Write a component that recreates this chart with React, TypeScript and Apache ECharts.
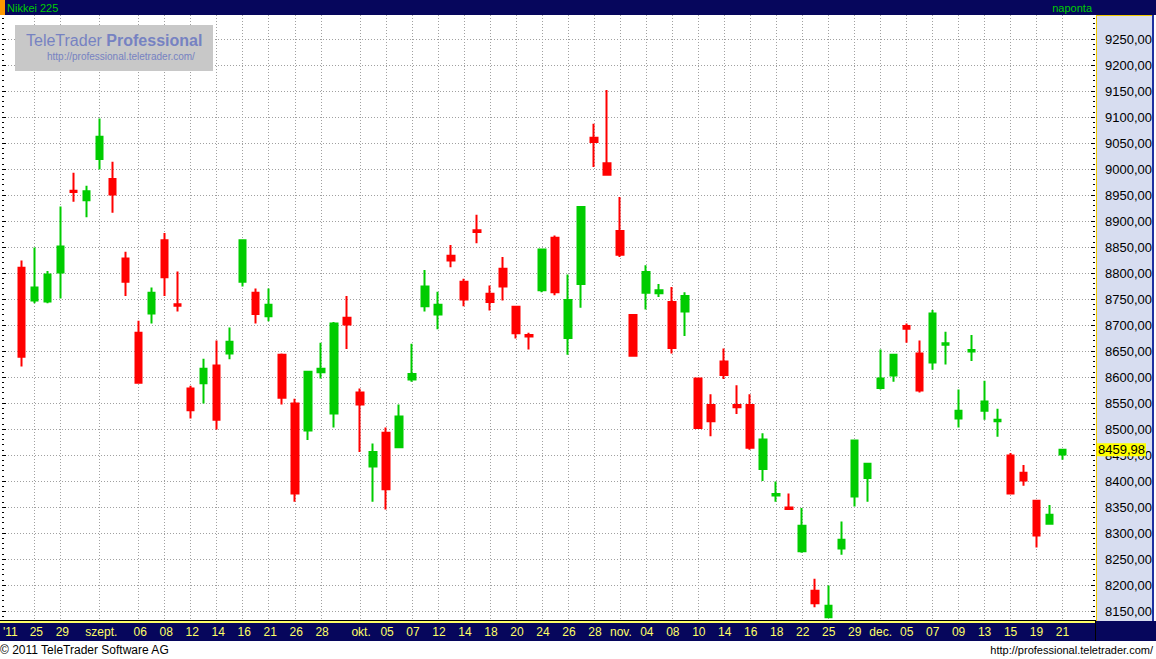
import React, { useEffect, useRef } from 'react';
import * as echarts from 'echarts';

// ---- Data (Nikkei 225, daily, Aug 24 - Dec 21 2011) ----
const DATES = [
  '08-24','08-25','08-26','08-29','08-30','08-31',
  '09-01','09-02','09-05','09-06','09-07','09-08','09-09','09-12','09-13','09-14','09-15','09-16','09-20','09-21','09-22','09-26','09-27','09-28','09-29','09-30',
  '10-03','10-04','10-05','10-06','10-07','10-11','10-12','10-13','10-14','10-17','10-18','10-19','10-20','10-21','10-24','10-25','10-26','10-27','10-28','10-31',
  '11-01','11-02','11-04','11-07','11-08','11-09','11-10','11-11','11-14','11-15','11-16','11-17','11-18','11-21','11-22','11-24','11-25','11-28','11-29','11-30',
  '12-01','12-02','12-05','12-06','12-07','12-08','12-09','12-12','12-13','12-14','12-15','12-16','12-19','12-20','12-21',
];
const OPEN = [
  8810,8747,8745,8801,8958,8940,
  9019,8981,8828,8685,8722,8863,8740,8578,8588,8622,8645,8783,8762,8717,8643,8549,8497,8609,8530,8714,
  8570,8428,8493,8465,8595,8736,8720,8833,8783,8882,8760,8808,8735,8681,8767,8868,8675,8779,9060,9011,
  8881,8719,8762,8761,8744,8726,8597,8546,8630,8546,8546,8423,8372,8349,8265,8189,8138,8270,8370,8406,
  8579,8603,8698,8645,8628,8662,8520,8649,8535,8515,8449,8416,8362,8318,8451,
];
const CLOSE = [
  8639,8772,8797,8851,8956,8957,
  9062,8951,8783,8589,8762,8792,8737,8536,8616,8518,8668,8863,8721,8739,8560,8376,8610,8616,8703,8701,
  8547,8456,8384,8524,8606,8774,8739,8824,8749,8879,8744,8774,8684,8678,8845,8763,8748,8927,9052,8989,
  8835,8641,8802,8767,8656,8756,8502,8515,8604,8542,8464,8480,8375,8346,8314,8165,8160,8287,8478,8433,
  8597,8643,8693,8574,8722,8665,8535,8652,8553,8518,8376,8401,8295,8335,8459.98,
];
const LOW = [
  8620,8742,8742,8751,8937,8907,
  8999,8916,8756,8587,8703,8756,8726,8520,8549,8499,8634,8774,8703,8707,8547,8360,8479,8597,8503,8654,
  8456,8360,8345,8464,8591,8726,8692,8811,8736,8857,8728,8747,8674,8653,8763,8757,8643,8733,9004,8988,
  8831,8640,8730,8754,8645,8679,8500,8486,8596,8529,8460,8400,8360,8344,8262,8157,8137,8258,8351,8360,
  8576,8591,8666,8570,8614,8624,8503,8631,8518,8485,8374,8391,8272,8316,8441,
];
const HIGH = [
  8824,8849,8804,8928,8993,8968,
  9097,9014,8841,8708,8772,8877,8803,8583,8635,8670,8695,8864,8770,8770,8645,8558,8611,8666,8706,8756,
  8578,8472,8503,8547,8664,8806,8764,8854,8789,8912,8776,8831,8736,8685,8847,8872,8797,8928,9087,9152,
  8946,8720,8815,8779,8773,8763,8599,8567,8655,8584,8567,8492,8399,8376,8348,8212,8199,8322,8479,8435,
  8653,8644,8703,8670,8729,8687,8576,8681,8593,8539,8454,8431,8364,8354,8461,
];
// empty slots before / after the data on the category axis
const LEAD_SLOTS = ['08-23'];
const TRAIL_SLOTS = ['12-22', '12-26'];

const TICK_DATES = [
  '08-23','08-25','08-29','09-01','09-06','09-08','09-12','09-14','09-16','09-21','09-26','09-28',
  '10-03','10-05','10-07','10-12','10-14','10-18','10-20','10-24','10-26','10-28',
  '11-01','11-04','11-08','11-10','11-14','11-16','11-18','11-22','11-25','11-29',
  '12-01','12-05','12-07','12-09','12-13','12-15','12-19','12-21',
];
const TICK_LABELS = [
  "'11",'25','29','szept.','06','08','12','14','16','21','26','28',
  'okt.','05','07','12','14','18','20','24','26','28',
  'nov.','04','08','10','14','16','18','22','25','29',
  'dec.','05','07','09','13','15','19','21',
];

const Y_MIN = 8100;
const Y_MAX = 9300;
const Y_STEP = 50;

const CATEGORIES = [...LEAD_SLOTS, ...DATES, ...TRAIL_SLOTS];
const tickIndex = (v: string) => TICK_DATES.indexOf(v);
const fmtNum = (v: number) => v.toFixed(2).replace('.', ',');

const FONT = '"Liberation Sans", Arial, sans-serif';
const NAVY = '#06065c';
const UP = '#00cc00';
const DOWN = '#ff0000';
const GRID_COLOR = '#a0a0a0';

function buildOption() {
  const last = CLOSE.length - 1;
  return {
    animation: false,
    backgroundColor: '#ffffff',
    textStyle: { fontFamily: FONT },
    grid: [
      { left: 2, top: 13, width: 1093, height: 624, show: false },
      { left: 2, top: 623, width: 1093, height: 18, show: false },
    ],
    xAxis: [
      {
        type: 'category',
        gridIndex: 0,
        data: CATEGORIES,
        boundaryGap: true,
        axisLine: { show: false },
        axisTick: { show: false },
        axisLabel: { show: false },
        splitLine: { show: false },
      },
      {
        type: 'category',
        gridIndex: 1,
        data: CATEGORIES,
        boundaryGap: true,
        position: 'bottom',
        z: 60,
        axisLine: { show: false },
        axisTick: { show: false },
        splitLine: { show: false },
        axisLabel: {
          show: true,
          inside: true,
          margin: 3,
          interval: (i: number) => tickIndex(CATEGORIES[i]) >= 0,
          formatter: (v: string) => {
            const k = tickIndex(v);
            return k >= 0 ? TICK_LABELS[k] : '';
          },
          color: '#ffff66',
          fontSize: 12,
          fontFamily: FONT,
        },
      },
    ],
    yAxis: [
      {
        type: 'value',
        gridIndex: 0,
        position: 'right',
        min: Y_MIN,
        max: Y_MAX,
        interval: Y_STEP,
        axisLine: { show: false },
        axisTick: { show: true, inside: true, length: 4, lineStyle: { color: '#000' } },
        minorTick: { show: true, splitNumber: 5, length: 2, lineStyle: { color: '#000' } },
        axisLabel: {
          show: true,
          align: 'right',
          margin: 57,
          color: '#000',
          fontSize: 13,
          fontFamily: FONT,
          formatter: (v: number) => (v === Y_MIN || v === Y_MAX ? '' : fmtNum(v)),
        },
        splitLine: { show: true, lineStyle: { color: GRID_COLOR, width: 1, type: [1, 2] } },
      },
      {
        type: 'value',
        gridIndex: 0,
        position: 'left',
        min: Y_MIN,
        max: Y_MAX,
        interval: Y_STEP,
        axisLine: { show: false },
        axisTick: { show: true, inside: true, length: 4, lineStyle: { color: '#000' } },
        minorTick: { show: true, splitNumber: 5, length: 2, lineStyle: { color: '#000' } },
        axisLabel: { show: false },
        splitLine: { show: false },
      },
      { type: 'value', gridIndex: 1, show: false },
    ],
    series: [
      // vertical date grid lines (behind the candles)
      {
        type: 'line',
        xAxisIndex: 0,
        yAxisIndex: 0,
        z: 1,
        silent: true,
        showSymbol: false,
        data: [],
        markLine: {
          z: 1,
          silent: true,
          symbol: 'none',
          label: { show: false },
          emphasis: { disabled: true },
          lineStyle: { color: GRID_COLOR, width: 1, type: [1, 2] },
          data: TICK_DATES.slice(1).map((d) => ({ xAxis: d })),
        },
      },
      {
        type: 'candlestick',
        xAxisIndex: 0,
        yAxisIndex: 0,
        z: 3,
        barWidth: 7,
        encode: { x: 0, y: [1, 2, 3, 4] },
        data: DATES.map((d, i) => [d, OPEN[i], CLOSE[i], LOW[i], HIGH[i]]),
        itemStyle: {
          color: UP,
          color0: DOWN,
          borderColor: UP,
          borderColor0: DOWN,
          borderWidth: 2,
        },
        markLine: {
          z: 6,
          silent: true,
          symbol: 'none',
          lineStyle: { width: 0, color: 'rgba(0,0,0,0)' },
          label: {
            show: true,
            position: 'end',
            distance: 2,
            formatter: () => fmtNum(CLOSE[last]),
            backgroundColor: '#ffff00',
            color: '#000',
            fontSize: 13,
            fontFamily: FONT,
            padding: [0, 1, 0, 1],
          },
          data: [{ yAxis: CLOSE[last] }],
        },
      },
    ],
    graphic: [
      // right price-axis panel
      { type: 'rect', z: -1, shape: { x: 1096, y: 15, width: 57, height: 606 }, style: { fill: '#d7ddf0' } },
      { type: 'line', z: 5, shape: { x1: 1096.5, y1: 15, x2: 1096.5, y2: 621 }, style: { stroke: '#f0c800', lineWidth: 1 } },
      { type: 'line', z: 5, shape: { x1: 1096, y1: 15.5, x2: 1153, y2: 15.5 }, style: { stroke: '#f0c800', lineWidth: 1 } },
      { type: 'rect', z: 5, shape: { x: 1152, y: 15, width: 2, height: 606 }, style: { fill: '#2030a0' } },
      // header bar
      { type: 'rect', z: 50, shape: { x: 0, y: 0, width: 1156, height: 15 }, style: { fill: NAVY } },
      { type: 'rect', z: 51, shape: { x: 0, y: 0, width: 5, height: 15 }, style: { fill: '#ff9900' } },
      { type: 'text', z: 51, x: 7, y: 8, style: { text: 'Nikkei 225', fill: '#00cc00', fontSize: 11, fontFamily: FONT, verticalAlign: 'middle' } },
      { type: 'text', z: 51, x: 1092, y: 8, style: { text: 'naponta', fill: '#00cc00', fontSize: 11, fontFamily: FONT, align: 'right', verticalAlign: 'middle' } },
      // bottom axis bar
      { type: 'rect', z: 50, shape: { x: 0, y: 621, width: 1156, height: 20 }, style: { fill: NAVY } },
      { type: 'rect', z: 51, shape: { x: 0, y: 620, width: 1096, height: 1 }, style: { fill: '#000000' } },
      { type: 'rect', z: 51, shape: { x: 0, y: 621, width: 1096, height: 2 }, style: { fill: '#ffff66' } },
      { type: 'rect', z: 51, shape: { x: 1095, y: 621, width: 1, height: 20 }, style: { fill: '#000000' } },
      // white strip under the bottom bar
      { type: 'rect', z: 50, shape: { x: 0, y: 641, width: 1156, height: 18 }, style: { fill: '#ffffff' } },
      { type: 'text', z: 51, x: 0, y: 650, style: { text: '\u00a9 2011 TeleTrader Software AG', fill: '#000', fontSize: 12, fontFamily: FONT, verticalAlign: 'middle' } },
      { type: 'text', z: 51, x: 1153, y: 650, style: { text: 'http://professional.teletrader.com/', fill: '#000', fontSize: 11, fontFamily: FONT, align: 'right', verticalAlign: 'middle' } },
      // logo
      { type: 'rect', z: 40, shape: { x: 15, y: 25, width: 198, height: 46 }, style: { fill: '#c8c8c8' } },
      {
        type: 'text', z: 41, x: 26, y: 40,
        style: {
          text: '{a|TeleTrader }{b|Professional}',
          verticalAlign: 'middle',
          rich: {
            a: { fontSize: 16, fontFamily: FONT, fill: '#7682c2', color: '#7682c2' },
            b: { fontSize: 16, fontFamily: FONT, fontWeight: 'bold', fill: '#7682c2', color: '#7682c2' },
          },
        },
      },
      { type: 'text', z: 41, x: 47, y: 56, style: { text: 'http://professional.teletrader.com/', fill: '#7682c2', fontSize: 10, fontFamily: FONT, verticalAlign: 'middle' } },
    ],
  };
}

export default function App() {
  const ref = useRef<HTMLDivElement>(null);
  useEffect(() => {
    if (!ref.current) return;
    const chart = echarts.init(ref.current, null, { renderer: 'svg', width: 1156, height: 659 });
    chart.setOption(buildOption() as any);
    return () => chart.dispose();
  }, []);
  return (
    <div
      ref={ref}
      style={{ position: 'fixed', left: 0, top: 0, width: 1156, height: 659, background: '#ffffff' }}
    />
  );
}
